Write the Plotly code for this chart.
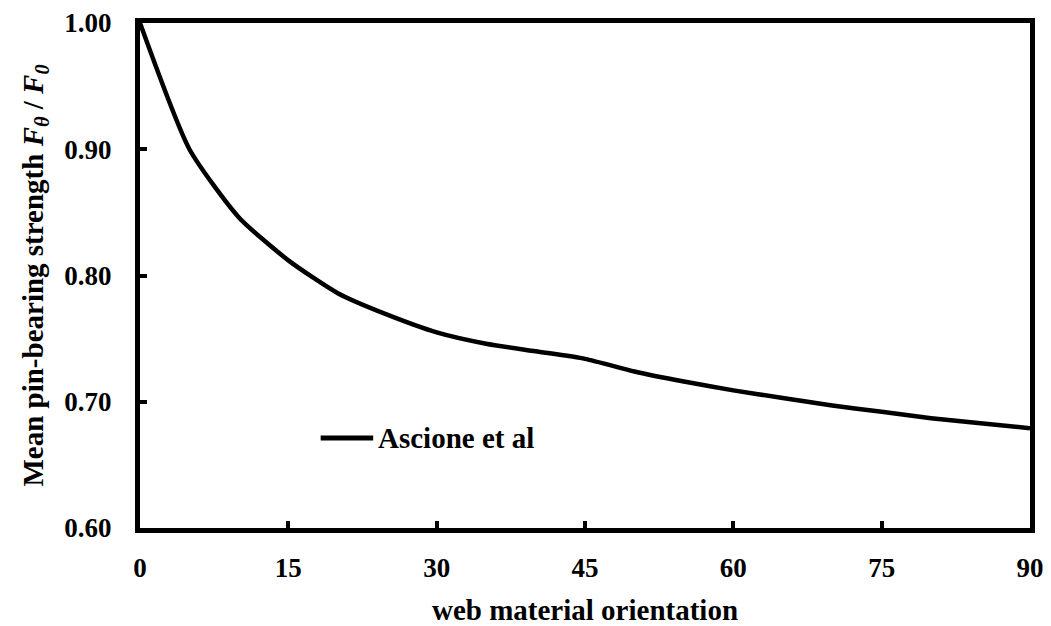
import plotly.graph_objects as go

angle = [0, 5, 10, 15, 20, 25, 30, 35, 40, 45, 50, 55, 60, 65, 70, 75, 80, 85, 90]
strength = [1.000, 0.900, 0.846, 0.812, 0.786, 0.769, 0.755, 0.746, 0.740, 0.734, 0.724, 0.716, 0.709, 0.703, 0.697, 0.692, 0.687, 0.683, 0.679]

x_ticks = [0, 15, 30, 45, 60, 75, 90]
y_ticks = [0.60, 0.70, 0.80, 0.90, 1.00]
series_name = "Ascione et al"

FONT = "Liberation Serif"
TICK_FS = 27
TITLE_FS = 29

fig = go.Figure()
fig.add_trace(go.Scatter(
    x=angle, y=strength, mode="lines", name=series_name, showlegend=False,
    line=dict(color="black", width=4.5, shape="spline", smoothing=0.6),
))

# legend drawn manually (longer line sample as in the reference)
fig.add_shape(type="line", xref="paper", yref="paper", x0=0.203, x1=0.262, y0=0.178, y1=0.178,
              line=dict(color="black", width=5))
fig.add_annotation(xref="paper", yref="paper", x=0.265, y=0.178, xanchor="left", yanchor="middle",
                   text=f"<b>{series_name}</b>", showarrow=False,
                   font=dict(family=FONT, size=TITLE_FS, color="black"))

fig.update_layout(
    width=1051, height=626,
    margin=dict(l=140, r=21, t=23, b=98),
    paper_bgcolor="white", plot_bgcolor="white",
    font=dict(family=FONT, size=TICK_FS, color="black"),
    xaxis=dict(
        range=[0, 90], tickvals=x_ticks, ticktext=[f"<b>{v}</b>" for v in x_ticks],
        showgrid=False, zeroline=False, showline=True, linecolor="black", linewidth=5,
        mirror=True, ticks="inside", ticklen=7, tickwidth=4, tickcolor="black",
        ticklabelstandoff=12, automargin=False,
        tickfont=dict(family=FONT, size=TICK_FS, color="black"),
        title=dict(text="<b>web material orientation</b>", standoff=20,
                   font=dict(family=FONT, size=TITLE_FS, color="black")),
    ),
    yaxis=dict(
        range=[0.60, 1.00], tickvals=y_ticks, ticktext=[f"<b>{v:.2f}</b>" for v in y_ticks],
        showgrid=False, zeroline=False, showline=True, linecolor="black", linewidth=5,
        mirror=True, ticks="inside", ticklen=7, tickwidth=4, tickcolor="black",
        ticklabelstandoff=18, automargin=False,
        tickfont=dict(family=FONT, size=TICK_FS, color="black"),
        title=dict(text="<b>Mean pin-bearing strength <i>F<sub>θ</sub></i> / <i>F<sub>0</sub></i></b>",
                   standoff=14, font=dict(family=FONT, size=TITLE_FS, color="black")),
    ),
)

fig.write_html("out.html")
